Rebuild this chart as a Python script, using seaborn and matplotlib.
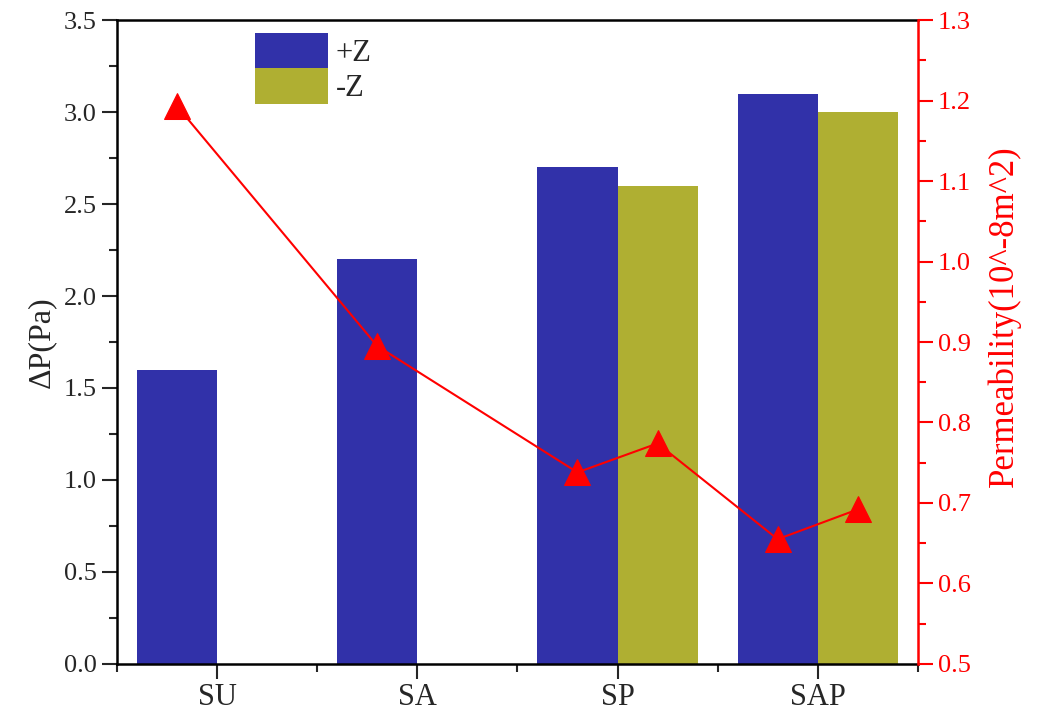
import numpy as np
import pandas as pd
import matplotlib
matplotlib.use("Agg")
import matplotlib.pyplot as plt
from matplotlib.ticker import MultipleLocator, FixedLocator, FormatStrFormatter
import seaborn as sns

# data
samples = ["SU", "SA", "SP", "SAP"]
directions = ["+Z", "-Z"]
dp_plus = [1.6, 2.2, 2.7, 3.1]
dp_minus = [np.nan, np.nan, 2.6, 3.0]
perm_plus = [1.193, 0.895, 0.738, 0.655]
perm_minus = [np.nan, np.nan, 0.774, 0.692]
bar_colors = ["#3131A9", "#AFAF32"]

sns.set_style("ticks")
plt.rcParams["font.family"] = ["Liberation Serif", "DejaVu Serif"]

df = pd.DataFrame({
    "sample": samples * 2,
    "direction": ["+Z"] * len(samples) + ["-Z"] * len(samples),
    "dp": dp_plus + dp_minus,
    "perm": perm_plus + perm_minus,
})

fig = plt.figure(figsize=(10.4, 7.17), dpi=100)
ax = fig.add_axes([0.1125, 0.074, 0.77, 0.898])

sns.barplot(data=df.dropna(subset=["dp"]), x="sample", y="dp", hue="direction",
            order=samples, hue_order=directions, palette=bar_colors,
            width=0.8, linewidth=0, saturation=1, errorbar=None, ax=ax)

# bar centres -> x of the permeability points
centers = {}
for cont, d in zip(ax.containers, directions):
    for bar in cont:
        xc = bar.get_x() + bar.get_width() / 2
        centers[(samples[int(round(xc))], d)] = xc

line_df = df.dropna(subset=["perm"]).copy()
line_df["x"] = [centers[(s, d)] for s, d in zip(line_df["sample"], line_df["direction"])]
line_df = line_df.sort_values("x")

ax2 = ax.twinx()
sns.lineplot(data=line_df, x="x", y="perm", sort=False, estimator=None,
             color="red", marker="^", markersize=19, markeredgecolor="red",
             linewidth=1.5, legend=False, ax=ax2)

ax.set_xlim(-0.5, 3.5)
ax.set_ylim(0, 3.5)
ax2.set_ylim(0.5, 1.3)

ax.yaxis.set_major_locator(MultipleLocator(0.5))
ax.yaxis.set_minor_locator(MultipleLocator(0.25))
ax.yaxis.set_major_formatter(FormatStrFormatter("%.1f"))
ax.xaxis.set_minor_locator(FixedLocator([-0.5, 0.5, 1.5, 2.5, 3.5]))
ax2.yaxis.set_major_locator(MultipleLocator(0.1))
ax2.yaxis.set_minor_locator(MultipleLocator(0.05))
ax2.yaxis.set_major_formatter(FormatStrFormatter("%.1f"))

ax.tick_params(axis="y", which="major", direction="out", length=11, width=1.5, labelsize=19)
ax.tick_params(axis="y", which="minor", direction="out", length=6, width=1.5)
ax.tick_params(axis="x", which="major", direction="out", length=11, width=1.5, labelsize=22, pad=3)
ax.tick_params(axis="x", which="minor", direction="out", length=6, width=1.5)
ax2.tick_params(axis="y", which="major", direction="out", length=11, width=1.5,
                labelsize=19, colors="red")
ax2.tick_params(axis="y", which="minor", direction="out", length=6, width=1.5, colors="red")

for s in ["left", "bottom", "top"]:
    ax.spines[s].set_visible(True)
    ax.spines[s].set_color("black")
    ax.spines[s].set_linewidth(1.8)
ax.spines["right"].set_visible(False)
for s in ["left", "bottom", "top"]:
    ax2.spines[s].set_visible(False)
ax2.spines["right"].set_visible(True)
ax2.spines["right"].set_color("red")
ax2.spines["right"].set_linewidth(1.8)

ax.set_xlabel("")
ax2.set_xlabel("")
ax.set_ylabel("ΔP(Pa)", fontsize=23, labelpad=6)
ax2.set_ylabel("Permeability(10^-8m^2)", fontsize=25, color="red", labelpad=12)
ax2.yaxis.label.set_y(0.54)

handles, labels = ax.get_legend_handles_labels()
ax.legend(handles, labels, loc="upper left", bbox_to_anchor=(0.172, 0.98),
          frameon=False, fontsize=22, handlelength=2.4, handleheight=1.4,
          labelspacing=0, handletextpad=0.25, borderpad=0, borderaxespad=0)

fig.savefig("out.png", dpi=100)
